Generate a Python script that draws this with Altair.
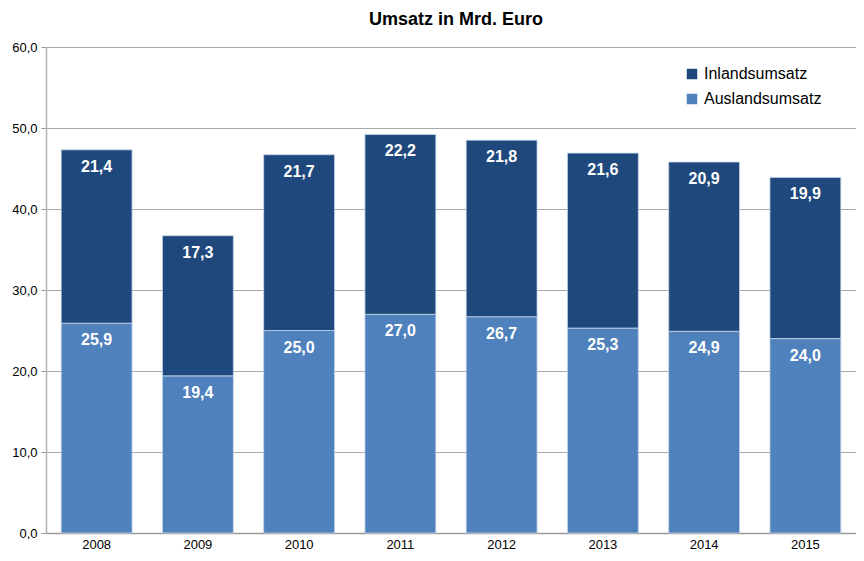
import altair as alt
import pandas as pd

years = ["2008", "2009", "2010", "2011", "2012", "2013", "2014", "2015"]
ausland = [25.9, 19.4, 25.0, 27.0, 26.7, 25.3, 24.9, 24.0]
inland = [21.4, 17.3, 21.7, 22.2, 21.8, 21.6, 20.9, 19.9]
series_names = ["Inlandsumsatz", "Auslandsumsatz"]
colors = ["#1F497D", "#4F81BD"]

rows = []
for i, y in enumerate(years):
    rows.append({"year": y, "series": "Auslandsumsatz", "value": ausland[i], "order": 0})
    rows.append({"year": y, "series": "Inlandsumsatz", "value": inland[i], "order": 1})
df = pd.DataFrame(rows)

FONT = "Liberation Sans"

base = alt.Chart(df).transform_stack(
    stack="value", groupby=["year"], as_=["v0", "v1"],
    sort=[alt.SortField("order", order="ascending")]
).transform_calculate(
    label="replace(format(datum.value, '.1f'), '.', ',')"
)

xenc = alt.X("year:N", title=None,
             scale=alt.Scale(paddingInner=0.3, paddingOuter=0.15),
             axis=alt.Axis(labelAngle=0, ticks=False, labelPadding=5,
                           labelFont=FONT, labelFontSize=13, labelColor="#000000",
                           domainColor="#9a9a9a", domainWidth=1.5))

bars = base.mark_bar(stroke="#c5d5ea", strokeWidth=1, strokeOpacity=0.8).encode(
    x=xenc,
    y=alt.Y("v0:Q", title=None,
            scale=alt.Scale(domain=[0, 60], nice=False),
            axis=alt.Axis(values=[0, 10, 20, 30, 40, 50, 60],
                          labelExpr="replace(format(datum.value, '.1f'), '.', ',')",
                          labelFont=FONT, labelFontSize=13, labelColor="#000000",
                          labelPadding=4, tickSize=5, tickColor="#9a9a9a",
                          domainColor="#b4b4b4", domainWidth=1.5,
                          grid=True, gridColor="#a8a8a8", gridWidth=1.2)),
    y2="v1:Q",
    color=alt.Color("series:N",
                    scale=alt.Scale(domain=series_names, range=colors),
                    legend=alt.Legend(title=None, orient="none", legendX=638, legendY=19,
                                      symbolType="square", symbolSize=110,
                                      symbolStrokeWidth=0, labelFont=FONT,
                                      labelFontSize=16, labelColor="#000000",
                                      rowPadding=9, labelOffset=4)),
)

text = base.mark_text(dy=17, color="white", fontWeight="bold", fontSize=16,
                      font=FONT, baseline="middle").encode(
    x=alt.X("year:N"),
    y=alt.Y("v1:Q"),
    text="label:N",
)

chart = alt.layer(bars, text).properties(
    width=810, height=486,
    title=alt.TitleParams("Umsatz in Mrd. Euro", font=FONT, fontSize=18,
                          fontWeight="bold", color="#000000", anchor="middle",
                          offset=12, dx=5),
    autosize=alt.AutoSizeParams(type="none"),
    padding={"left": 38, "top": 39, "right": 0, "bottom": 20},
).configure_view(stroke=None)

chart.save("out.html", embed_options={"renderer": "svg", "actions": False})
